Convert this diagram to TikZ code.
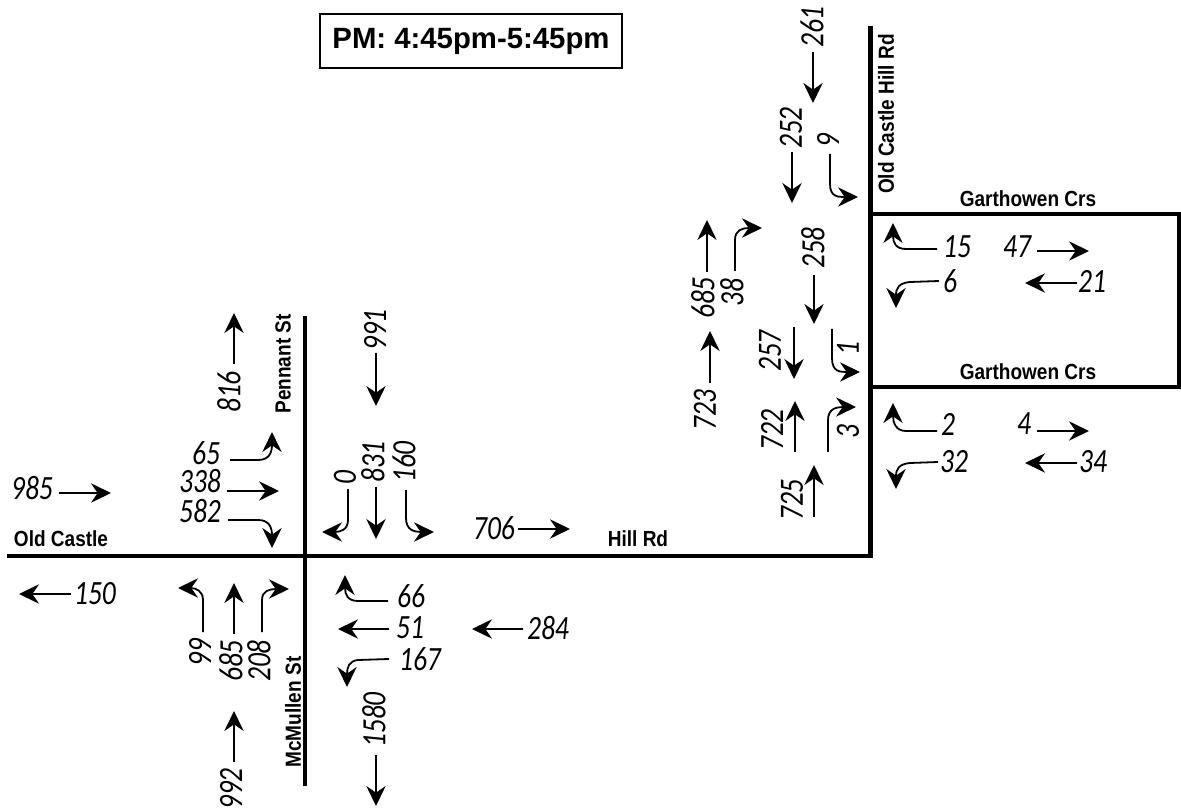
\documentclass[tikz,border=0pt]{standalone}
\usepackage{fontspec}
\usetikzlibrary{arrows.meta}
\setmainfont{Liberation Sans}
\newfontfamily\numfont[FakeStretch=0.81]{Carlito}
\newfontfamily\labfont[FakeStretch=0.87]{Liberation Sans}
\newcommand\sarr[3]{\coordinate (#1s) at (#2);\coordinate (#1e) at (#3);\draw[flow] (#1s) -- (#1e);}
\newcommand\tarr[6]{\coordinate (#1s) at (#2);\coordinate (#1b) at (#3);\coordinate (#1e) at (#6);\draw[flow] (#1s) -- (#1b) .. controls (#4) and (#5) .. (#1e);}
\tikzset{
  flow/.style={line width=1.35pt,-{Stealth[length=15pt,width=14.5pt,inset=5pt]}},
  road/.style={line width=3.6pt,line cap=butt},
  num/.style={font=\numfont\itshape\fontsize{25.5}{25.5}\selectfont,inner sep=0pt,outer sep=0pt},
  vnum/.style={num,rotate=90},
  lab/.style={font=\labfont\bfseries\fontsize{16.4}{16.4}\selectfont,inner sep=0pt,outer sep=0pt},
  vlab/.style={lab,rotate=90}
}
\begin{document}
\begin{tikzpicture}[x=0.75pt,y=-0.75pt]
\useasboundingbox (0,0) rectangle (1181,812);
% roads
\coordinate (rA) at (7,556);\coordinate (rB) at (872.5,556);\coordinate (rC) at (870.5,26);
\coordinate (rD) at (305,316);\coordinate (rE) at (305,786);
\coordinate (rF) at (870.5,214);\coordinate (rG) at (1179,214);\coordinate (rH) at (1179,387);\coordinate (rI) at (870.5,387);
\draw[road] (rA) -- (rB);
\draw[road] (rC) -- (870.5,558);
\draw[road] (rD) -- (rE);
\draw[road,line join=miter] (rF) -- (rG) -- (rH) -- (rI);
% title
\node[draw,line width=1pt,minimum width=226.5pt,minimum height=40.5pt,inner sep=0pt,font=\bfseries\fontsize{22}{22}\selectfont] (title) at (471,41) {PM: 4:45pm-5:45pm};
% road labels
\node[lab] (lOC) at (61,539) {Old Castle};
\node[lab] (lHR) at (638,539) {Hill Rd};
\node[lab] (lG1) at (1028,199) {Garthowen Crs};
\node[lab] (lG2) at (1028,372) {Garthowen Crs};
\node[vlab] (lPS) at (283,364) {Pennant St};
\node[vlab] (lMM) at (293,712) {McMullen St};
\node[vlab] (lOH) at (886,114) {Old Castle Hill Rd};
% numbers, west intersection
\node[num] (t985) at (32,488) {985};
\node[num] (t65) at (206,453) {65};
\node[num] (t338) at (200,481) {338};
\node[num] (t582) at (200,511) {582};
\node[vnum] (t816) at (229,392) {816};
\node[vnum] (t991) at (375,330) {991};
\node[vnum] (t0) at (345,478) {0};
\node[vnum] (t831) at (373,462) {831};
\node[vnum] (t160) at (404,462) {160};
\node[num] (t706) at (494,528) {706};
\node[num] (t150) at (95,594) {150};
\node[vnum] (t99) at (200,653) {99};
\node[vnum] (t685a) at (231,661) {685};
\node[vnum] (t208) at (259,661) {208};
\node[vnum] (t992) at (231,789) {992};
\node[num] (t66) at (411,596) {66};
\node[num] (t51) at (410,628) {51};
\node[num] (t284) at (548,628) {284};
\node[num] (t167) at (420,659) {167};
\node[vnum] (t1580) at (374,720) {1580};
% numbers, east
\node[vnum] (t261) at (812,27) {261};
\node[vnum] (t252) at (791,128) {252};
\node[vnum] (t9) at (828,141) {9};
\node[vnum] (t38) at (732,293) {38};
\node[vnum] (t685b) at (703,298) {685};
\node[vnum] (t258) at (813,248) {258};
\node[vnum] (t257) at (770,351) {257};
\node[vnum] (t1) at (848,349) {1};
\node[vnum] (t723) at (705,410) {723};
\node[vnum] (t722) at (772,430) {722};
\node[vnum] (t3) at (848,432) {3};
\node[vnum] (t725) at (792,500) {725};
\node[num] (t15) at (957,247) {15};
\node[num] (t47) at (1017,247) {47};
\node[num] (t6) at (950,281) {6};
\node[num] (t21) at (1092,281) {21};
\node[num] (t2) at (948,424) {2};
\node[num] (t4) at (1024,424) {4};
\node[num] (t32) at (954,462) {32};
\node[num] (t34) at (1093,462) {34};
% straight arrows
\sarr{a985}{59,493}{111,493}
\sarr{a816}{234,364}{234,313}
\sarr{a991}{376,353}{376,406}
\sarr{a338}{227,491}{279,491}
\sarr{a831}{376,487}{376,539}
\sarr{a706}{518,529}{570,529}
\sarr{a150}{71,594}{19,594}
\sarr{a685a}{234,634}{234,583}
\sarr{a992}{234,762}{234,711}
\sarr{a51}{389,629}{338,629}
\sarr{a284}{523,629}{472,629}
\sarr{a1580}{376,755}{376,806}
\sarr{a261}{813,52}{813,103}
\sarr{a252}{792,152}{792,203}
\sarr{a685b}{707,272}{707,220}
\sarr{a258}{814,275}{814,324}
\sarr{a723}{710,383}{710,331}
\sarr{a257}{794,327}{794,379}
\sarr{a722}{795,452}{795,401}
\sarr{a725}{814,517}{814,465}
\sarr{a47}{1037,251}{1089,251}
\sarr{a21}{1077,283}{1025,283}
\sarr{a4}{1037,431}{1089,431}
\sarr{a34}{1077,463}{1025,463}
% turning arrows
\tarr{a9}{830,154}{830,184}{830,197}{838,197}{858,197}
\tarr{a38}{735,271}{735,240}{735,230}{742,228}{762,228}
\tarr{a1}{832,329}{832,358}{832,372}{840,372}{860,372}
\tarr{a3}{828,452}{828,420}{828,409}{836,407}{856,407}
\tarr{a15}{937,249}{906,249}{896,249}{893,243}{893,223}
\tarr{a6}{939,281}{910,282}{899,283}{896,288}{896,308}
\tarr{a2}{937,431}{906,431}{896,431}{893,423}{893,403}
\tarr{a32}{938,462}{910,463}{899,464}{896,469}{896,489}
\tarr{a65}{230,460}{258,460}{268,460}{272,454}{272,432}
\tarr{a582}{228,520}{258,520}{268,520}{272,526}{272,548}
\tarr{a0}{348,489}{348,520}{348,530}{340,532}{322,532}
\tarr{a160}{406,490}{406,518}{406,530}{414,532}{434,532}
\tarr{a99}{203,632}{203,600}{203,591}{196,588}{178,588}
\tarr{a208}{262,632}{262,600}{262,591}{269,589}{289,589}
\tarr{a66}{388,601}{358,601}{348,601}{345,595}{345,575}
\tarr{a167}{389,659}{358,660}{349,661}{347,667}{347,687}
\end{tikzpicture}
\end{document}
